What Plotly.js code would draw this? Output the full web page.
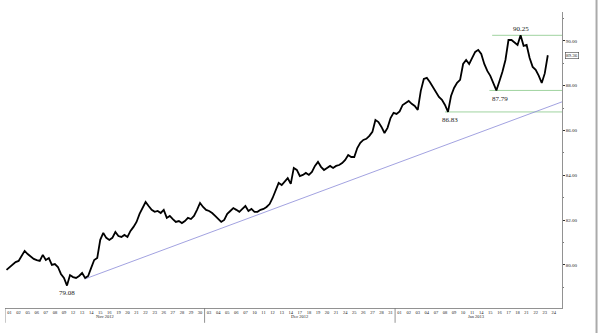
<!DOCTYPE html>
<html>
<head>
<meta charset="utf-8">
<script src="https://cdn.plot.ly/plotly-3.0.1.min.js"></script>
<style>html,body{margin:0;padding:0;background:#fff;}#chart{width:600px;height:333px;}</style>
</head>
<body>
<div id="chart"></div>
<script>
// Trading days shown on the time axis
const novDays = ['01','02','05','06','07','08','09','12','13','14','15','16','19','20','21','22','23','26','27','28','29','30'];
const decDays = ['03','04','05','06','07','10','11','12','13','14','17','18','19','20','21','24','25','26','27','28','31'];
const janDays = ['01','02','03','04','07','08','09','10','11','14','15','16','17','18','21','22','23','24'];
const monthNames = ['Nov 2012', 'Dec 2012', 'Jan 2013'];

// Price, three readings per trading day
const prices = [
  79.78, 79.91, 80.04, 80.13, 80.18, 80.40, 80.63, 80.49, 80.36, 80.27,
  80.22, 80.18, 80.45, 80.22, 80.31, 80.00, 80.04, 79.91, 79.60, 79.42,
  79.08, 79.55, 79.46, 79.42, 79.51, 79.64, 79.42, 79.51, 79.87, 80.22,
  80.31, 81.12, 81.43, 81.21, 81.12, 81.21, 81.47, 81.29, 81.25, 81.34,
  81.25, 81.52, 81.70, 81.92, 82.28, 82.54, 82.81, 82.63, 82.46, 82.37,
  82.41, 82.32, 82.46, 82.10, 82.19, 82.05, 81.92, 81.96, 81.87, 81.96,
  82.10, 82.05, 82.19, 82.46, 82.77, 82.59, 82.46, 82.41, 82.32, 82.19,
  82.05, 81.92, 82.01, 82.28, 82.41, 82.54, 82.46, 82.37, 82.50, 82.63,
  82.41, 82.50, 82.37, 82.37, 82.46, 82.50, 82.59, 82.72, 82.99, 83.35,
  83.66, 83.57, 83.71, 83.88, 83.62, 84.33, 84.24, 83.97, 84.02, 84.11,
  84.02, 84.15, 84.42, 84.60, 84.38, 84.24, 84.33, 84.42, 84.33, 84.42,
  84.46, 84.55, 84.69, 84.91, 84.82, 84.82, 85.22, 85.45, 85.58, 85.63,
  85.76, 85.94, 86.47, 86.38, 86.16, 85.89, 86.12, 86.56, 86.79, 86.74,
  86.85, 87.14, 87.23, 87.32, 87.19, 87.10, 86.92, 87.77, 88.30, 88.35,
  88.17, 87.95, 87.77, 87.50, 87.37, 87.14, 86.83, 87.54, 87.90, 88.13,
  88.26, 88.97, 89.15, 88.97, 89.24, 89.51, 89.60, 89.42, 88.97, 88.66,
  88.44, 88.15, 87.79, 88.20, 88.62, 89.15, 90.04, 90.04, 89.91, 89.82,
  90.25, 89.78, 89.82, 89.24, 88.84, 88.71, 88.45, 88.12, 88.55, 89.36
];
const readingsPerDay = 3;

// Marked levels (value) and the trading day where each horizontal line begins
const levelValues = [90.25, 87.79, 86.83];
const levelStartDay = [53.7, 53.4, 48.5];
const lowLabelValue = 79.08;

// Trend line (trading day, price) end points
const trendDays = [8.8, 61.4];
const trendPrices = [79.375, 87.28];

const yTickValues = [80, 82, 84, 86, 88, 90];

const allDays = novDays.concat(decDays, janDays);
const monthBounds = [0, novDays.length, novDays.length + decDays.length, allDays.length];
const totalDays = 61.4;

const xs = prices.map((_, i) => (i + 0.5) / readingsPerDay);
const dayPos = p => (prices.indexOf(p) + 0.5) / readingsPerDay;

const serif = 'Liberation Serif, DejaVu Serif, serif';

const traces = [];
// green level lines
levelValues.forEach((v, i) => {
  traces.push({
    x: [levelStartDay[i], totalDays], y: [v, v], mode: 'lines',
    line: {color: '#9fd39f', width: 1}, hoverinfo: 'skip', showlegend: false
  });
});
// trend line
traces.push({
  x: trendDays, y: trendPrices, mode: 'lines',
  line: {color: '#8a8ad8', width: 0.8}, hoverinfo: 'skip', showlegend: false
});
// price
traces.push({
  x: xs, y: prices, mode: 'lines',
  line: {color: '#000', width: 1.8}, showlegend: false
});

const annotations = [];
// level labels
annotations.push({x: dayPos(levelValues[0]), y: levelValues[0], text: levelValues[0].toFixed(2), showarrow: false, yanchor: 'bottom', yshift: 0, font: {family: serif, size: 7, color: '#222'}});
annotations.push({x: dayPos(levelValues[1]), y: levelValues[1], text: levelValues[1].toFixed(2), showarrow: false, yanchor: 'top', yshift: -3, xshift: 4, font: {family: serif, size: 7, color: '#222'}});
annotations.push({x: dayPos(levelValues[2]), y: levelValues[2], text: levelValues[2].toFixed(2), showarrow: false, yanchor: 'top', yshift: -2, xshift: 2, font: {family: serif, size: 7, color: '#222'}});
annotations.push({x: dayPos(lowLabelValue), y: lowLabelValue, text: lowLabelValue.toFixed(2), showarrow: false, yanchor: 'top', yshift: -1, font: {family: serif, size: 7, color: '#222'}});
// last price box
const last = prices[prices.length - 1];
annotations.push({xref: 'paper', x: 1, y: last, xanchor: 'left', xshift: 3, text: last.toFixed(2), showarrow: false,
  bordercolor: '#444', borderwidth: 0.6, borderpad: 0.5, font: {family: serif, size: 5, color: '#222'}});
// month labels
for (let m = 0; m < monthNames.length; m++) {
  annotations.push({x: (monthBounds[m] + monthBounds[m + 1]) / 2, yref: 'paper', y: -0.029, yanchor: 'middle',
    text: monthNames[m], showarrow: false, font: {family: serif, size: 4.5, color: '#222'}});
}

const shapes = [];
for (let m = 0; m < monthBounds.length - 1; m++) {
  shapes.push({type: 'line', xref: 'x', yref: 'paper', x0: monthBounds[m], x1: monthBounds[m], y0: 0, y1: -0.05,
    line: {color: '#777', width: 0.8}});
}
shapes.push({type: 'line', xref: 'paper', yref: 'paper', x0: 1.062, x1: 1.062, y0: -0.1, y1: 1.06,
  line: {color: '#aaa', width: 2}});

const layout = {
  width: 600, height: 333,
  margin: {l: 5, r: 38, t: 12, b: 25},
  paper_bgcolor: '#fff', plot_bgcolor: '#fff',
  showlegend: false,
  xaxis: {
    range: [0, totalDays], showgrid: false, zeroline: false,
    showline: true, linecolor: '#777', linewidth: 0.8,
    tickmode: 'array', tickvals: allDays.map((_, i) => i + 0.5), ticktext: allDays,
    ticks: '', tickangle: 0, tickfont: {family: serif, size: 4.5, color: '#222'}
  },
  yaxis: {
    side: 'right', range: [78.08, 91.29], showgrid: false, zeroline: false,
    showline: true, linecolor: '#777', linewidth: 0.8,
    tickmode: 'array', tickvals: yTickValues, ticktext: yTickValues.map(v => v.toFixed(2)),
    ticks: 'outside', ticklen: 2, tickcolor: '#333', tickwidth: 1,
    minor: {tickmode: 'linear', dtick: 1, tick0: 79, ticks: 'outside', ticklen: 1.5, tickcolor: '#777'},
    tickfont: {family: serif, size: 5, color: '#222'}
  },
  annotations: annotations,
  shapes: shapes
};

Plotly.newPlot('chart', traces, layout, {staticPlot: true, displayModeBar: false});
</script>
</body>
</html>
